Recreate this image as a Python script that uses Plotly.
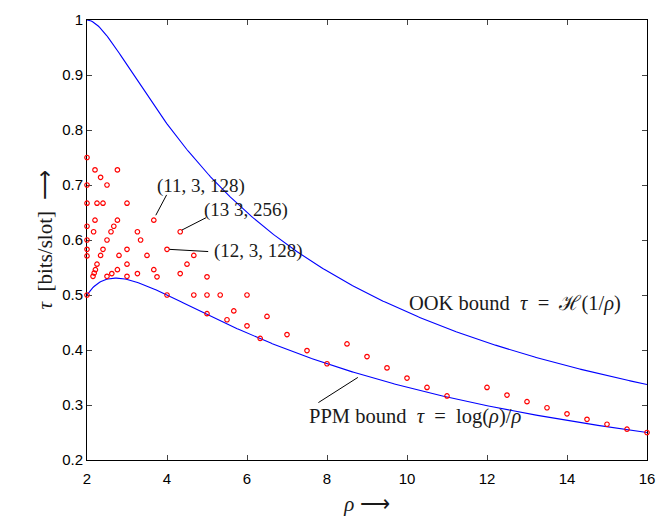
import numpy as np
import plotly.graph_objects as go

# ---- data ----
rho_grid = np.linspace(2, 16, 400)

codes_rho = [2, 2, 2, 2, 2, 2, 2, 2,
             2.15, 2.18, 2.2, 2.2, 2.165, 2.21, 2.25, 2.25, 2.34, 2.34, 2.4, 2.4,
             2.5, 2.5, 2.5, 2.6, 2.62, 2.67, 2.76, 2.76, 2.76, 2.8,
             3.0, 3.0, 3.0, 3.0, 3.26, 3.26, 3.34, 3.5, 3.67, 3.67, 3.75,
             4.0, 4.0, 4.33, 4.33, 4.5, 4.67, 4.67, 5.0, 5.0, 5.0, 5.33, 5.5, 5.67,
             6.0, 6.0, 6.33, 6.5, 7.0, 7.5, 8.0, 8.5, 9.0, 9.5, 10.0, 10.5, 11.0,
             12.0, 12.5, 13.0, 13.5, 14.0, 14.5, 15.0, 15.5, 16.0]
codes_tau = [0.75, 0.70, 0.667, 0.625, 0.60, 0.583, 0.571, 0.50,
             0.534, 0.540, 0.7275, 0.636, 0.615, 0.546, 0.667, 0.556, 0.714, 0.572, 0.667, 0.583,
             0.700, 0.600, 0.534, 0.615, 0.539, 0.625, 0.7275, 0.636, 0.546, 0.572,
             0.667, 0.583, 0.556, 0.534, 0.615, 0.539, 0.600, 0.572, 0.636, 0.546, 0.533,
             0.583, 0.500, 0.615, 0.539, 0.556, 0.572, 0.500, 0.533, 0.500, 0.466, 0.500, 0.455, 0.471,
             0.500, 0.444, 0.421, 0.461, 0.428, 0.399, 0.375, 0.411, 0.388, 0.3675, 0.349, 0.332, 0.3165,
             0.332, 0.318, 0.306, 0.295, 0.284, 0.274, 0.265, 0.256, 0.250]

# callouts: text, leader start (rho, tau), leader end (rho, tau), text anchor (rho, tau)
callout_text = ["(11,&nbsp;3,&nbsp;128)", "(13&nbsp;3,&nbsp;256)", "(12,&nbsp;3,&nbsp;128)"]
callout_from = [(3.72, 0.645), (4.37, 0.618), (4.06, 0.583)]
callout_to = [(3.99, 0.682), (4.975, 0.6405), (5.03, 0.579)]
callout_pos = [(3.70, 0.699), (4.87, 0.654), (5.13, 0.580)]

x_ticks = [2, 4, 6, 8, 10, 12, 14, 16]
y_ticks = [0.2, 0.3, 0.4, 0.5, 0.6, 0.7, 0.8, 0.9, 1.0]
y_ticktext = ["0.2", "0.3", "0.4", "0.5", "0.6", "0.7", "0.8", "0.9", "1"]

# bounds
p = 1.0 / rho_grid
ook = -p * np.log2(p) - (1 - p) * np.log2(1 - p)
ppm = np.log2(rho_grid) / rho_grid

SERIF = "Liberation Serif, Times New Roman, serif"
SANS = "Liberation Sans, Arial, sans-serif"
TXT = "#1a1a1a"

fig = go.Figure()
fig.add_trace(go.Scatter(x=rho_grid, y=ook, mode="lines",
                         line=dict(color="#0000ff", width=1.1), cliponaxis=False,
                         showlegend=False, hoverinfo="skip"))
fig.add_trace(go.Scatter(x=rho_grid, y=ppm, mode="lines",
                         line=dict(color="#0000ff", width=1.1), cliponaxis=False,
                         showlegend=False, hoverinfo="skip"))
fig.add_trace(go.Scatter(x=codes_rho, y=codes_tau, mode="markers",
                         marker=dict(symbol="circle-open", size=4.5, color="#ff0000",
                                     line=dict(width=1.2, color="#ff0000")),
                         cliponaxis=False, showlegend=False))

annotations = []
shapes = []
for t, a, b, pos in zip(callout_text, callout_from, callout_to, callout_pos):
    shapes.append(dict(type="line", xref="x", yref="y", x0=a[0], y0=a[1], x1=b[0], y1=b[1],
                       line=dict(color="black", width=1)))
    annotations.append(dict(x=pos[0], y=pos[1], xref="x", yref="y", text=t, showarrow=False,
                            xanchor="left", yanchor="middle",
                            font=dict(family=SERIF, size=19, color=TXT)))

# PPM label + leader
shapes.append(dict(type="line", xref="x", yref="y", x0=7.785, y0=0.3044, x1=8.771, y1=0.3501,
                   line=dict(color="black", width=1)))
annotations.append(dict(x=7.50, y=0.2786, xref="x", yref="y",
                        text="PPM bound&nbsp;&nbsp;<i>τ</i>&nbsp;&nbsp;=&nbsp;&nbsp;log(<i>ρ</i>)/<i>ρ</i>",
                        showarrow=False, xanchor="left", yanchor="middle",
                        font=dict(family=SERIF, size=20.5, color=TXT)))
annotations.append(dict(x=12.69, y=0.4843, xref="x", yref="y",
                        text="OOK bound&nbsp;&nbsp;<i>τ</i>&nbsp;&nbsp;=&nbsp;&nbsp;ℋ(1/<i>ρ</i>)",
                        showarrow=False, xanchor="center", yanchor="middle",
                        font=dict(family=SERIF, size=20.5, color=TXT)))

fig.update_layout(
    width=666, height=523,
    margin=dict(l=87, r=11, t=13, b=62),
    paper_bgcolor="white", plot_bgcolor="white",
    annotations=annotations, shapes=shapes,
    xaxis=dict(range=[2, 16], tickvals=x_ticks, ticks="inside", ticklen=5,
               showline=True, linecolor="black", linewidth=1, mirror="ticks",
               showgrid=False, zeroline=False, layer="below traces",
               tickfont=dict(family=SANS, size=15, color="black"),
               ticklabelstandoff=5,
               title=dict(text="<i>ρ</i>&nbsp;⟶", font=dict(family=SERIF, size=21, color=TXT),
                          standoff=10)),
    yaxis=dict(range=[0.2, 1.0], tickvals=y_ticks, ticktext=y_ticktext, ticks="inside",
               ticklen=5, showline=True, linecolor="black", linewidth=1, mirror="ticks",
               showgrid=False, zeroline=False, layer="below traces",
               tickfont=dict(family=SANS, size=15, color="black"),
               title=dict(text="<i>τ</i>&nbsp;&nbsp;[bits/slot]&nbsp;&nbsp;⟶",
                          font=dict(family=SERIF, size=21, color=TXT), standoff=3)),
)

fig.write_html("out.html")
